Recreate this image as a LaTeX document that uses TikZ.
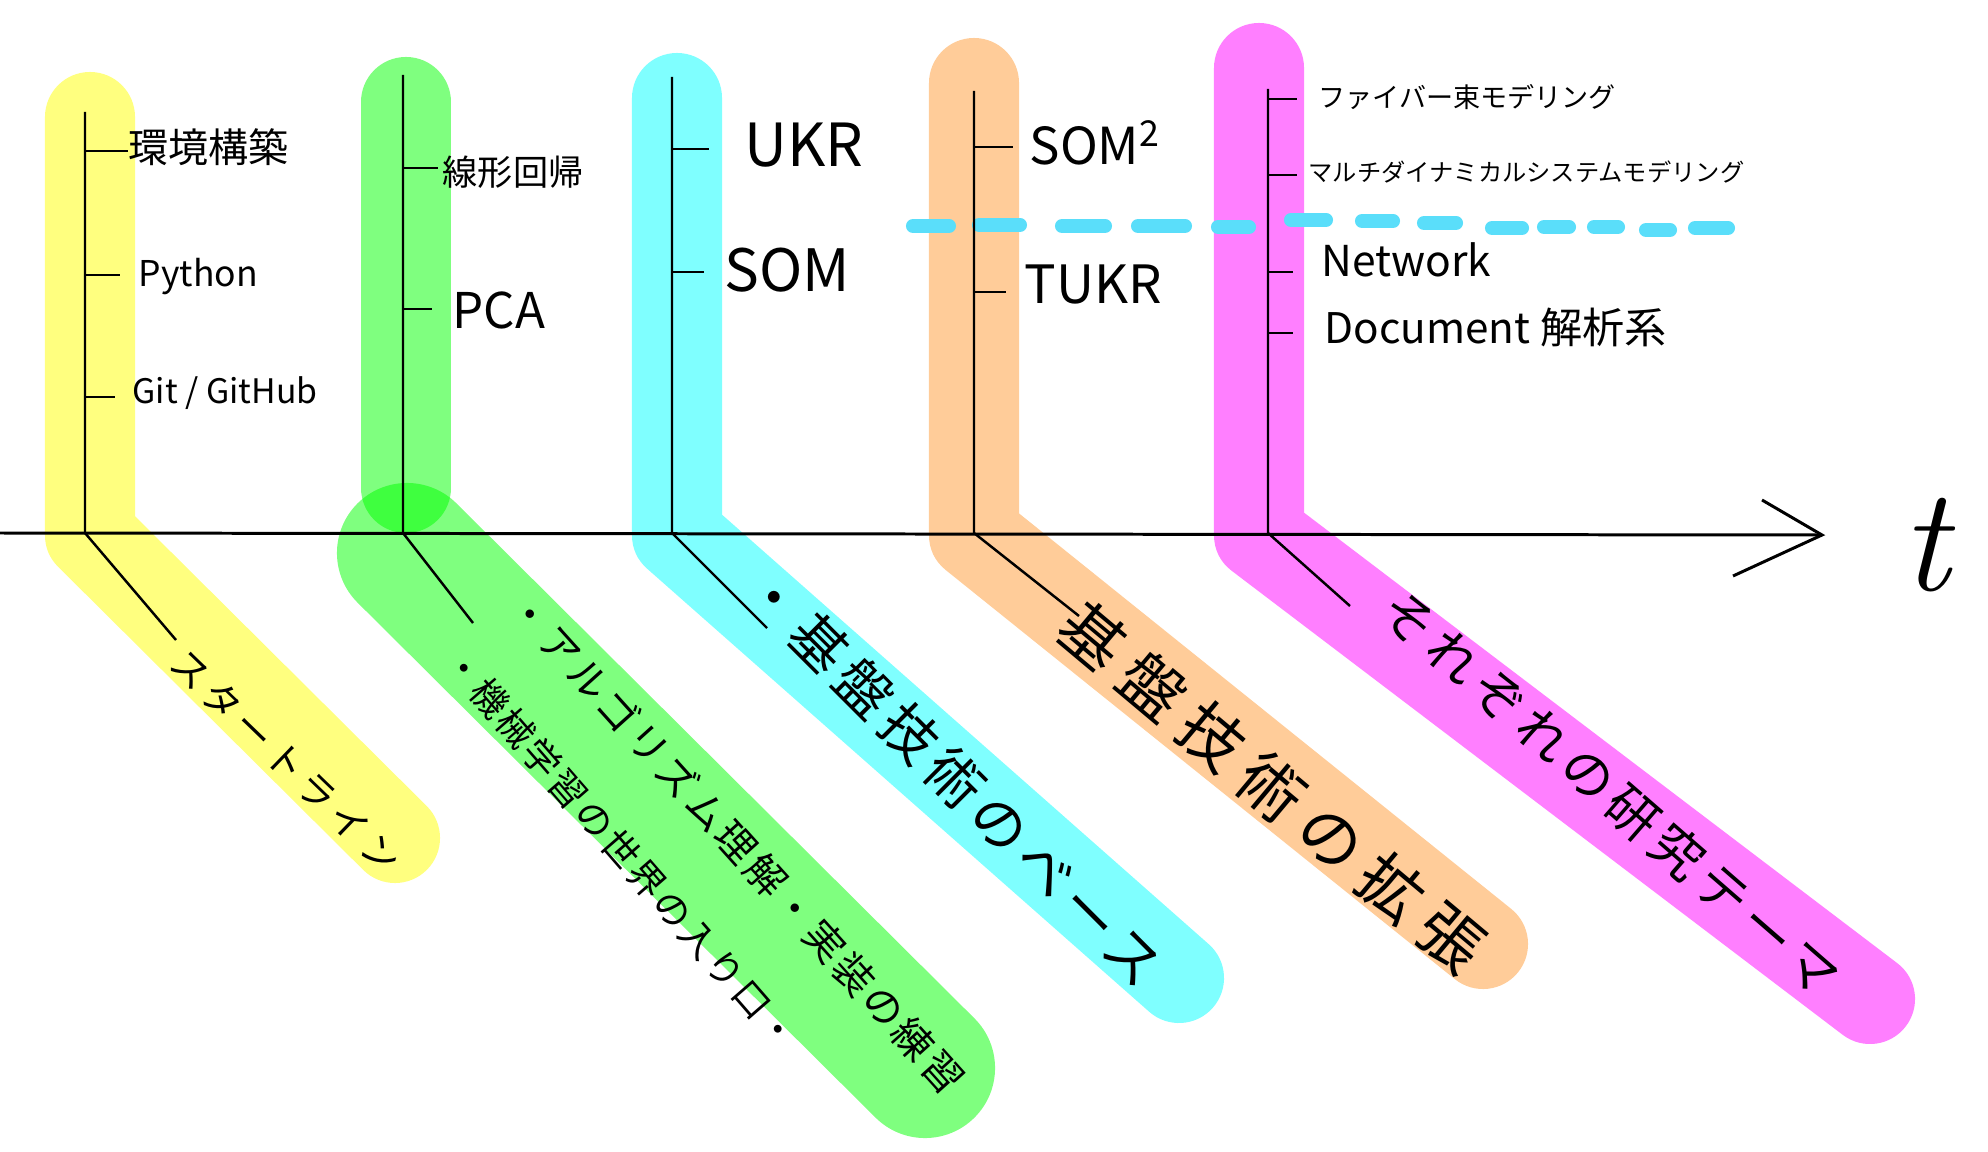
\documentclass[tikz,border=0pt]{standalone}
\usepackage{fontspec}
\newfontfamily\jpfont{Noto Sans CJK JP}
\usepackage{tikz}
\usetikzlibrary{calc}
\definecolor{hlyellow}{RGB}{255,255,0}
\definecolor{hlgreen}{RGB}{0,255,0}
\definecolor{hlcyan}{RGB}{0,255,255}
\definecolor{hlorange}{RGB}{255,153,51}
\definecolor{hlmagenta}{RGB}{255,0,255}
\definecolor{divider}{RGB}{90,222,250}
\newcommand{\jpsize}[2][0]{\jpfont\fontsize{#2}{#2}\selectfont\addfontfeature{LetterSpace=#1}}
\tikzset{
  band/.style={line width=9mm, line cap=round, line join=round, draw opacity=0.5},
  spine/.style={line width=0.7pt},
  item/.style={anchor=west, inner sep=0pt},
  theme/.style={inner sep=0pt}
}

\begin{document}
\begin{tikzpicture}[x=0.01cm, y=-0.01cm]
\pgfmathsetmacro{\axisY}{533}
\useasboundingbox (0,0) rectangle (1988,1152);

% highlighter bands
\draw[band, hlyellow] (90,117) -- (90,535) -- (395,838);
\draw[band, hlgreen] (406,102) -- (406,488);
\draw[band, hlgreen, line width=14mm] (407,553) -- (925,1068);
\draw[band, hlcyan] (677,98) -- (677,535) -- (1179,978);
\draw[band, hlorange] (974,83) -- (974,535) -- (1483,944);
\draw[band, hlmagenta] (1259,68) -- (1259,535) -- (1870,999);

% dashed divider
\foreach \xa/\xb/\y in {913/949/226, 979/1020/225, 1062/1105/226, 1138/1185/226,
    1218/1249/227, 1291/1326/220, 1362/1393/221, 1424/1456/223, 1492/1522/228,
    1544/1569/227, 1594/1618/227, 1646/1670/230, 1695/1728/228}{
  \draw[divider, line width=4pt, line cap=round] (\xa,\y) -- (\xb,\y);
}

% time axis
\coordinate (origin) at (0,\axisY);
\coordinate (tip) at (1822,535);
\draw[line width=0.85pt] (origin) -- (tip);
\draw[line width=0.85pt] (1762,500) -- (tip) -- (1733,576);
\node (time) at (1925,545) {\fontsize{42}{42}\selectfont\itshape t};

% spines
\draw[spine] (85,112) -- (85,\axisY) -- (176,640);
\draw[spine] (403,75) -- (403,\axisY) -- (473,623);
\draw[spine] (672,77) -- (672,\axisY) -- (767,628);
\draw[spine] (974,91) -- (974,\axisY) -- (1079,616);
\draw[spine] (1268,89) -- (1268,\axisY) -- (1350,606);

% ticks
\foreach \x/\y/\e in {85/151/128, 85/275/120, 85/397/115, 403/168/438, 403/309/432,
    672/149/709, 672/272/704, 974/147/1013, 974/292/1006,
    1268/99/1297, 1268/175/1297, 1268/272/1293, 1268/333/1293}{
  \draw[spine] (\x,\y) -- (\e,\y);
}

% items
\node[item, font={\jpsize{11.4}}] (env) at (128,147) {環境構築};
\node[item, font={\jpsize{10.1}}] (python) at (138,277) {Python};
\node[item, font={\jpsize{9.6}}] (git) at (132,393) {Git / GitHub};
\node[item, font={\jpsize{10}}] (linreg) at (442,172) {線形回帰};
\node[item, font={\jpsize{14}}] (pca) at (452,310) {PCA};
\node[item, font={\jpsize{16.9}}] (ukr) at (744,145) {UKR};
\node[item, font={\jpsize{16.6}}] (som) at (724,270) {SOM};
\node[item, font={\jpsize{14.5}}] (somsq) at (1029,143) {SOM\textsuperscript{2}};
\node[item, font={\jpsize{15}}] (tukr) at (1024,285) {TUKR};
\node[item, font={\jpsize{7.7}}] (fiber) at (1318,97) {ファイバー束モデリング};
\node[item, font={\jpsize{6.9}}] (multi) at (1308,172) {マルチダイナミカルシステムモデリング};
\node[item, font={\jpsize{12.1}}] (network) at (1321,260) {Network};
\node[item, font={\jpsize{12}}] (document) at (1324,327) {Document 解析系};

% themes along the diagonals
\node[theme, rotate=-44, font={\jpsize[16]{10.8}}] (start) at (286,761) {スタートライン};
\node[theme, rotate=-48, font={\jpsize[10]{11.4}}] (algo) at (737,843) {・アルゴリズム理解・実装の練習};
\node[theme, rotate=-49, font={\jpsize[8]{10.5}}] (entry) at (621,849) {・機械学習の世界の入り口・};
\node[theme, rotate=-45, font={\jpsize[14]{15.9}}] (base) at (954,777) {・基盤技術のベース};
\node[theme, rotate=-40, font={\jpsize[22]{18.2}}] (ext) at (1272,787) {基盤技術の拡張};
\node[theme, rotate=-41, font={\jpsize[14]{14.8}}] (research) at (1611,793) {それぞれの研究テーマ};
\end{tikzpicture}
\end{document}
